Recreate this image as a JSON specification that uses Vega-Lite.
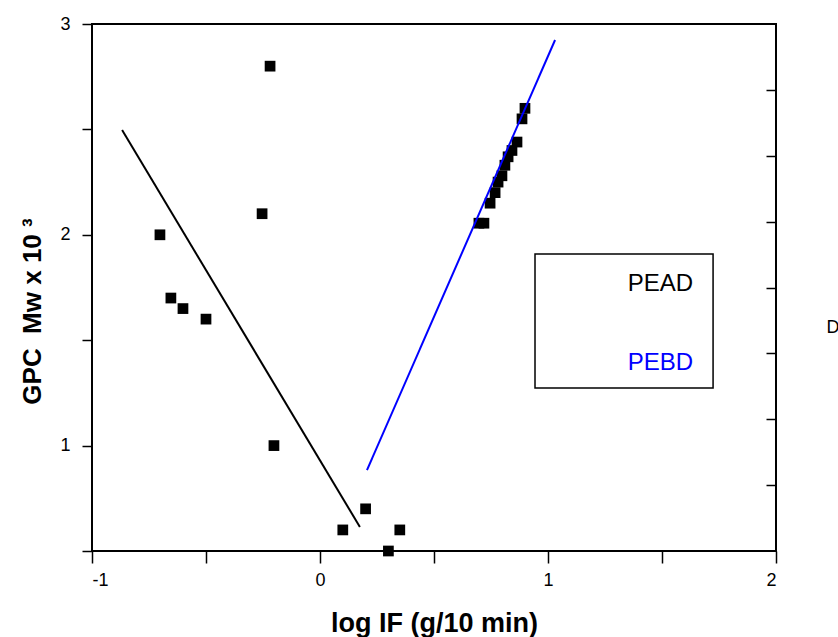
{
  "$schema": "https://vega.github.io/schema/vega-lite/v6.json",
  "autosize": "none",
  "width": 684,
  "height": 527,
  "padding": {"left": 92, "top": 24, "right": 62, "bottom": 86},
  "background": "white",
  "config": {
    "view": {"stroke": "black", "strokeWidth": 2},
    "axis": {"domain": false, "grid": false, "tickColor": "black", "tickWidth": 1.5, "labelColor": "black", "labelFont": "Liberation Sans", "labelFontSize": 18, "titleColor": "black", "titleFont": "Liberation Sans", "titleFontWeight": "bold"}
  },
  "datasets": {
    "points": [
      {"x": -0.219, "y": 2.80}, {"x": -0.254, "y": 2.10}, {"x": -0.702, "y": 2.00},
      {"x": -0.654, "y": 1.70}, {"x": -0.601, "y": 1.65}, {"x": -0.500, "y": 1.60},
      {"x": -0.202, "y": 1.00}, {"x": 0.100, "y": 0.60}, {"x": 0.200, "y": 0.70},
      {"x": 0.300, "y": 0.50}, {"x": 0.350, "y": 0.60},
      {"x": 0.697, "y": 2.055}, {"x": 0.719, "y": 2.055}, {"x": 0.746, "y": 2.15},
      {"x": 0.768, "y": 2.20}, {"x": 0.781, "y": 2.25}, {"x": 0.798, "y": 2.28},
      {"x": 0.811, "y": 2.33}, {"x": 0.825, "y": 2.37}, {"x": 0.842, "y": 2.40},
      {"x": 0.864, "y": 2.44}, {"x": 0.886, "y": 2.55}, {"x": 0.899, "y": 2.60}
    ],
    "fits": [
      {"series": "PEAD", "x": -0.868, "y": 2.497}, {"series": "PEAD", "x": 0.175, "y": 0.614},
      {"series": "PEBD", "x": 0.206, "y": 0.884}, {"series": "PEBD", "x": 1.031, "y": 2.924}
    ],
    "box": [{"x": 0.943, "x2": 1.724, "y": 1.909, "y2": 1.273}],
    "labels": [{"series": "PEAD", "x": 1.636, "y": 1.767}, {"series": "PEBD", "x": 1.636, "y": 1.392}]
  },
  "encoding": {
    "x": {
      "field": "x", "type": "quantitative",
      "scale": {"domain": [-1, 2], "nice": false, "zero": false},
      "axis": {
        "values": [-1, -0.5, 0, 0.5, 1, 1.5, 2],
        "tickSize": 12,
        "labelPadding": 8,
        "labelFontSize": 18,
        "labelExpr": "datum.value % 1 === 0 ? '' + datum.value : ''",
        "title": "log IF (g/10 min)",
        "titleFontSize": 27,
        "titleY": 80,
        "titleBaseline": "alphabetic",
        "encode": {"ticks": {"update": {"y2": {"signal": "datum.value % 1 === 0 ? 12 : 8"}}}}
      }
    }
  },
  "layer": [
    {
      "data": {"name": "points"},
      "mark": {"type": "square", "size": 115, "filled": true, "color": "black", "opacity": 1},
      "encoding": {
        "y": {
          "field": "y", "type": "quantitative",
          "scale": {"domain": [0.5, 3], "nice": false, "zero": false},
          "axis": {
            "orient": "left",
            "values": [0.5, 1, 1.5, 2, 2.5, 3],
            "tickSize": 10,
            "labelPadding": 12,
            "labelFontSize": 18,
            "labelExpr": "datum.value % 1 === 0 ? '' + datum.value : ''",
            "title": "GPC\u00a0\u00a0Mw\u00a0x\u00a010\u00a0³",
            "titleFontSize": 26,
            "titleX": -47,
            "titleY": 287
          }
        }
      }
    },
    {
      "data": {"name": "fits"},
      "mark": {"type": "line", "strokeWidth": 2},
      "encoding": {
        "y": {"field": "y", "type": "quantitative", "scale": {"domain": [0.5, 3], "nice": false, "zero": false}, "axis": null},
        "color": {"field": "series", "type": "nominal", "scale": {"domain": ["PEAD", "PEBD"], "range": ["black", "#0000ff"]}, "legend": null}
      }
    },
    {
      "data": {"name": "box"},
      "mark": {"type": "rect", "fill": "white", "fillOpacity": 0, "stroke": "black", "strokeWidth": 1.5},
      "encoding": {
        "x2": {"field": "x2"},
        "y": {
          "field": "y", "type": "quantitative",
          "scale": {"domain": [0.5, 3], "nice": false, "zero": false},
          "axis": {
            "orient": "right",
            "values": [0.8125, 1.125, 1.4375, 1.75, 2.0625, 2.375, 2.6875],
            "tickSize": -10,
            "labels": false,
            "title": "D",
            "titleAngle": 0,
            "titleX": 50,
            "titleY": 303,
            "titleAlign": "left",
            "titleBaseline": "middle",
            "titleFontSize": 18,
            "titleFontWeight": "normal"
          }
        },
        "y2": {"field": "y2"}
      }
    },
    {
      "data": {"name": "labels"},
      "mark": {"type": "text", "align": "right", "baseline": "middle", "fontSize": 24, "font": "Liberation Sans"},
      "encoding": {
        "y": {"field": "y", "type": "quantitative", "scale": {"domain": [0.5, 3], "nice": false, "zero": false}, "axis": null},
        "text": {"field": "series"},
        "color": {"field": "series", "type": "nominal", "scale": {"domain": ["PEAD", "PEBD"], "range": ["black", "#0000ff"]}, "legend": null}
      }
    }
  ],
  "resolve": {"axis": {"y": "independent"}}
}
